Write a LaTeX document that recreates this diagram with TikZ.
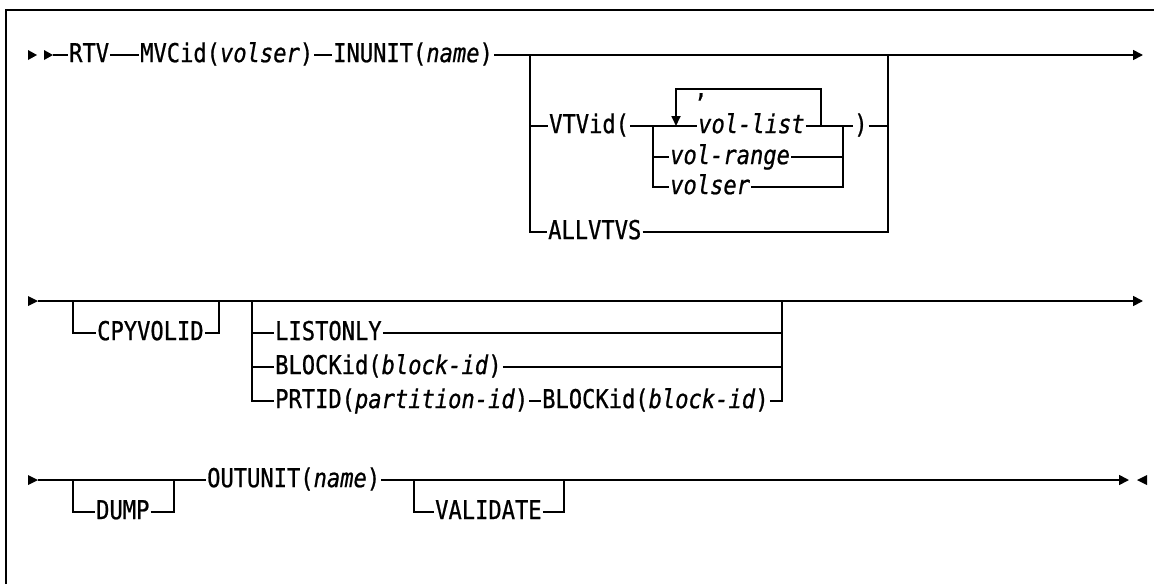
\documentclass[tikz,border=0pt]{standalone}
\usepackage{fontspec}
\setmonofont[FakeStretch=0.85,FakeBold=0.8]{DejaVu Sans Mono}
\usetikzlibrary{arrows.meta}
\begin{document}
\fontsize{26}{30}\selectfont\ttfamily
\begin{tikzpicture}[x=1pt,y=-1pt,
  rr/.style={line width=1.7pt},
  txt/.style={anchor=mid west, inner xsep=1pt, inner ysep=0pt, font=\fontsize{26}{30}\selectfont\ttfamily},
  endarr/.style={-{Triangle[length=10pt,width=10pt]}},
  looparr/.style={-{Triangle[length=10pt,width=9pt]}},
  tri/.style={fill=black}]
\useasboundingbox (0,0) rectangle (1154,584);
\draw[line width=2pt] (6,584) -- (6,10) -- (1154,10);

% ---------- row 1 ----------
\fill[tri] (28,50) -- (37,55) -- (28,60) -- cycle;
\fill[tri] (44,50) -- (53,55) -- (44,60) -- cycle;
\coordinate (a1) at (53,55);
\coordinate (e1) at (1143,55);
\node[txt] (rtv) at (68,55) {RTV};
\node[txt] (mvc) at (139,55) {MVCid(\textit{volser})};
\node[txt] (inu) at (332,55) {INUNIT(\textit{name})};
\draw[rr] (a1) -- (rtv.mid west);
\draw[rr] (rtv.mid east) -- (mvc.mid west);
\draw[rr] (mvc.mid east) -- (inu.mid west);
\draw[rr,endarr] (inu.mid east) -- (e1);

\coordinate (bl) at (530,55);
\coordinate (br) at (888,55);
\coordinate (blv) at (530,126);
\coordinate (brv) at (888,126);
\node[txt] (vtv) at (548,126) {VTVid(};
\node[txt] (all) at (547,232) {ALLVTVS};
\draw[rr] (bl) |- (all.mid west);
\draw[rr] (blv) -- (vtv.mid west);
\draw[rr] (all.mid east) -| (br);

\coordinate (il) at (653,126);
\coordinate (il2) at (653,157);
\coordinate (ir) at (843,126);
\coordinate (ir2) at (843,157);
\coordinate (lr) at (821,126);
\coordinate (ll) at (676,126);
\node[txt] (vl) at (697,126) {\itshape vol-list};
\node[txt] (vr) at (669,157) {\itshape vol-range};
\node[txt] (vs) at (669,187) {\itshape volser};
\node[txt] (rp) at (853,126) {)};
\node[txt, anchor=base] (cm) at (701,97) {,};
\draw[rr] (vtv.mid east) -- (vl.mid west);
\draw[rr] (il) |- (vs.mid west);
\draw[rr] (il2) -- (vr.mid west);
\draw[rr] (vl.mid east) -- (rp.mid west);
\draw[rr] (vs.mid east) -| (ir);
\draw[rr] (vr.mid east) -- (ir2);
\draw[rr] (rp.mid east) -- (brv);
\draw[rr,looparr] (lr) -- ++(0,-37) -| (ll);

% ---------- row 2 ----------
\fill[tri] (28,296) -- (38,301) -- (28,306) -- cycle;
\coordinate (a2) at (38,301);
\coordinate (e2) at (1143,301);
\draw[rr,endarr] (a2) -- (e2);
\coordinate (c1) at (73,301);
\coordinate (c2) at (219,301);
\node[txt] (cpy) at (96,333) {CPYVOLID};
\draw[rr] (c1) |- (cpy.mid west);
\draw[rr] (cpy.mid east) -| (c2);

\coordinate (g1) at (252,301);
\coordinate (g1a) at (252,333);
\coordinate (g1b) at (252,367);
\coordinate (g2) at (782,301);
\coordinate (g2a) at (782,333);
\coordinate (g2b) at (782,367);
\node[txt] (lst) at (274,333) {LISTONLY};
\node[txt] (blk) at (274,367) {BLOCKid(\textit{block-id})};
\node[txt] (prt) at (274,401) {PRTID(\textit{partition-id})};
\node[txt] (blk2) at (541,401) {BLOCKid(\textit{block-id})};
\draw[rr] (g1) |- (prt.mid west);
\draw[rr] (g1a) -- (lst.mid west);
\draw[rr] (g1b) -- (blk.mid west);
\draw[rr] (prt.mid east) -- (blk2.mid west);
\draw[rr] (blk2.mid east) -| (g2);
\draw[rr] (lst.mid east) -- (g2a);
\draw[rr] (blk.mid east) -- (g2b);

% ---------- row 3 ----------
\fill[tri] (28,475) -- (38,480) -- (28,485) -- cycle;
\coordinate (a3) at (38,480);
\coordinate (e3) at (1129,480);
\node[txt] (out) at (206,480) {OUTUNIT(\textit{name})};
\draw[rr] (a3) -- (out.mid west);
\draw[rr,endarr] (out.mid east) -- (e3);
\fill[tri] (1147,475) -- (1137,480) -- (1147,485) -- cycle;

\coordinate (d1) at (73,480);
\coordinate (d2) at (174,480);
\node[txt] (dmp) at (95,512) {DUMP};
\draw[rr] (d1) |- (dmp.mid west);
\draw[rr] (dmp.mid east) -| (d2);

\coordinate (v1) at (414,480);
\coordinate (v2) at (564,480);
\node[txt] (val) at (434,512) {VALIDATE};
\draw[rr] (v1) |- (val.mid west);
\draw[rr] (val.mid east) -| (v2);
\end{tikzpicture}
\end{document}
